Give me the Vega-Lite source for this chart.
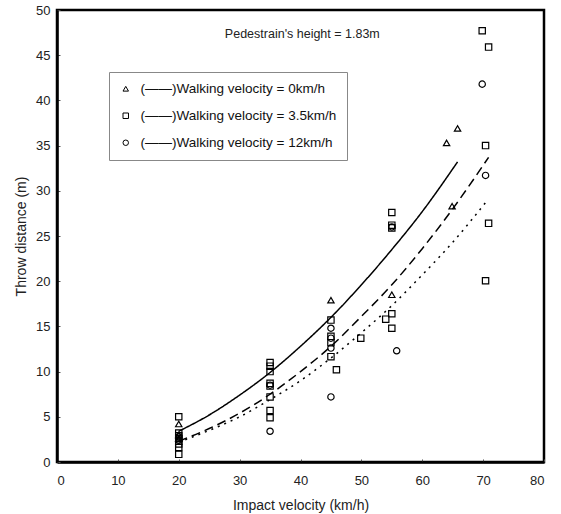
{
  "$schema": "https://vega.github.io/schema/vega-lite/v6.json",
  "width": 487,
  "height": 452,
  "autosize": "none",
  "padding": {"left": 57, "top": 10, "right": 17, "bottom": 52},
  "background": "white",
  "config": {
    "view": {"stroke": "black", "strokeWidth": 2.5},
    "axis": {
      "grid": false,
      "domainColor": "black",
      "domainWidth": 2.5,
      "tickColor": "#555",
      "tickSize": -3,
      "labelFont": "Liberation Sans",
      "labelFontSize": 13,
      "labelColor": "#222",
      "titleFont": "Liberation Sans",
      "titleFontSize": 14,
      "titleFontWeight": "normal",
      "titleColor": "#222"
    },
    "legend": {
      "labelFont": "Liberation Sans",
      "labelFontSize": 13.5,
      "labelColor": "#111",
      "labelLimit": 0
    }
  },
  "datasets": {
    "points": [
      {"v": 20, "d": 4.2, "s": "0"},
      {"v": 20, "d": 3.0, "s": "0"},
      {"v": 20, "d": 2.6, "s": "0"},
      {"v": 45, "d": 17.9, "s": "0"},
      {"v": 55, "d": 18.5, "s": "0"},
      {"v": 64.0, "d": 35.3, "s": "0"},
      {"v": 65.8, "d": 36.9, "s": "0"},
      {"v": 64.9, "d": 28.3, "s": "0"},
      {"v": 20, "d": 5.0, "s": "3.5"},
      {"v": 20, "d": 3.2, "s": "3.5"},
      {"v": 20, "d": 2.9, "s": "3.5"},
      {"v": 20, "d": 2.6, "s": "3.5"},
      {"v": 20, "d": 2.3, "s": "3.5"},
      {"v": 20, "d": 2.0, "s": "3.5"},
      {"v": 20, "d": 1.6, "s": "3.5"},
      {"v": 20, "d": 0.85, "s": "3.5"},
      {"v": 35, "d": 11.0, "s": "3.5"},
      {"v": 35, "d": 10.6, "s": "3.5"},
      {"v": 35, "d": 10.0, "s": "3.5"},
      {"v": 35, "d": 8.7, "s": "3.5"},
      {"v": 35, "d": 8.4, "s": "3.5"},
      {"v": 35, "d": 7.2, "s": "3.5"},
      {"v": 35, "d": 5.7, "s": "3.5"},
      {"v": 35, "d": 4.9, "s": "3.5"},
      {"v": 45, "d": 15.7, "s": "3.5"},
      {"v": 45, "d": 13.9, "s": "3.5"},
      {"v": 45, "d": 13.2, "s": "3.5"},
      {"v": 45, "d": 11.65, "s": "3.5"},
      {"v": 45.9, "d": 10.2, "s": "3.5"},
      {"v": 49.9, "d": 13.7, "s": "3.5"},
      {"v": 54.0, "d": 15.8, "s": "3.5"},
      {"v": 55, "d": 27.6, "s": "3.5"},
      {"v": 55, "d": 26.2, "s": "3.5"},
      {"v": 55, "d": 25.9, "s": "3.5"},
      {"v": 55, "d": 16.4, "s": "3.5"},
      {"v": 55, "d": 14.8, "s": "3.5"},
      {"v": 69.85, "d": 47.7, "s": "3.5"},
      {"v": 70.9, "d": 45.9, "s": "3.5"},
      {"v": 70.4, "d": 35.0, "s": "3.5"},
      {"v": 70.9, "d": 26.4, "s": "3.5"},
      {"v": 70.4, "d": 20.05, "s": "3.5"},
      {"v": 20, "d": 2.4, "s": "12"},
      {"v": 20, "d": 2.8, "s": "12"},
      {"v": 35, "d": 3.4, "s": "12"},
      {"v": 35, "d": 8.5, "s": "12"},
      {"v": 45, "d": 7.2, "s": "12"},
      {"v": 45, "d": 14.8, "s": "12"},
      {"v": 45, "d": 13.7, "s": "12"},
      {"v": 45, "d": 12.6, "s": "12"},
      {"v": 55, "d": 26.0, "s": "12"},
      {"v": 55.8, "d": 12.3, "s": "12"},
      {"v": 69.85, "d": 41.8, "s": "12"},
      {"v": 70.4, "d": 31.7, "s": "12"}
    ],
    "curves": [
      {"v": 20, "d": 3.4, "c": "fit0"},
      {"v": 25, "d": 5.2, "c": "fit0"},
      {"v": 30, "d": 7.4, "c": "fit0"},
      {"v": 35, "d": 9.9, "c": "fit0"},
      {"v": 40, "d": 12.8, "c": "fit0"},
      {"v": 45, "d": 16.0, "c": "fit0"},
      {"v": 50, "d": 19.6, "c": "fit0"},
      {"v": 55, "d": 23.5, "c": "fit0"},
      {"v": 60, "d": 27.7, "c": "fit0"},
      {"v": 65.8, "d": 33.2, "c": "fit0"},
      {"v": 20, "d": 2.3, "c": "fit3.5"},
      {"v": 25, "d": 3.7, "c": "fit3.5"},
      {"v": 30, "d": 5.4, "c": "fit3.5"},
      {"v": 35, "d": 7.5, "c": "fit3.5"},
      {"v": 40, "d": 10.0, "c": "fit3.5"},
      {"v": 45, "d": 12.8, "c": "fit3.5"},
      {"v": 50, "d": 16.1, "c": "fit3.5"},
      {"v": 55, "d": 19.6, "c": "fit3.5"},
      {"v": 60, "d": 23.6, "c": "fit3.5"},
      {"v": 65, "d": 28.0, "c": "fit3.5"},
      {"v": 70.9, "d": 33.7, "c": "fit3.5"},
      {"v": 20, "d": 2.2, "c": "fit12"},
      {"v": 25, "d": 3.5, "c": "fit12"},
      {"v": 30, "d": 5.0, "c": "fit12"},
      {"v": 35, "d": 6.9, "c": "fit12"},
      {"v": 40, "d": 9.0, "c": "fit12"},
      {"v": 45, "d": 11.5, "c": "fit12"},
      {"v": 50, "d": 14.3, "c": "fit12"},
      {"v": 55, "d": 17.3, "c": "fit12"},
      {"v": 60, "d": 20.7, "c": "fit12"},
      {"v": 65, "d": 24.3, "c": "fit12"},
      {"v": 70.4, "d": 28.7, "c": "fit12"}
    ],
    "note": [
      {"v": 40.3, "d": 47.4, "t": "Pedestrain's height = 1.83m"}
    ]
  },
  "layer": [
    {
      "data": {"name": "curves"},
      "mark": {"type": "line", "color": "black", "strokeWidth": 1.5, "interpolate": "monotone"},
      "encoding": {
        "x": {"field": "v", "type": "quantitative"},
        "y": {"field": "d", "type": "quantitative"},
        "strokeDash": {
          "field": "c",
          "type": "nominal",
          "scale": {"domain": ["fit0", "fit3.5", "fit12"], "range": [[1, 0], [9, 5], [2, 5]]},
          "legend": null
        }
      }
    },
    {
      "data": {"name": "points"},
      "mark": {"type": "point", "filled": false, "color": "black", "size": 40, "strokeWidth": 1.2, "opacity": 1},
      "encoding": {
        "x": {
          "field": "v",
          "type": "quantitative",
          "title": "Impact velocity (km/h)",
          "scale": {"domain": [0, 80], "nice": false},
          "axis": {"values": [0, 10, 20, 30, 40, 50, 60, 70, 80], "labelPadding": 15, "titlePadding": 11}
        },
        "y": {
          "field": "d",
          "type": "quantitative",
          "title": "Throw distance (m)",
          "scale": {"domain": [0, 50], "nice": false},
          "axis": {"values": [0, 5, 10, 15, 20, 25, 30, 35, 40, 45, 50], "labelPadding": 10, "titlePadding": 7}
        },
        "shape": {
          "field": "s",
          "type": "nominal",
          "scale": {"domain": ["0", "3.5", "12"], "range": ["triangle-up", "square", "circle"]},
          "legend": {
            "title": null,
            "orient": "none",
            "legendX": 52,
            "legendY": 62,
            "padding": 10,
            "strokeColor": "#888",
            "fillColor": "white",
            "symbolSize": 30,
            "symbolStrokeColor": "black",
            "symbolStrokeWidth": 1,
            "labelOffset": 8,
            "rowPadding": 12,
            "labelExpr": "'(——)Walking velocity = ' + datum.label + 'km/h'"
          }
        }
      }
    },
    {
      "data": {"name": "note"},
      "mark": {"type": "text", "font": "Liberation Sans", "fontSize": 12.5, "color": "#222"},
      "encoding": {
        "x": {"field": "v", "type": "quantitative"},
        "y": {"field": "d", "type": "quantitative"},
        "text": {"field": "t"}
      }
    }
  ]
}
